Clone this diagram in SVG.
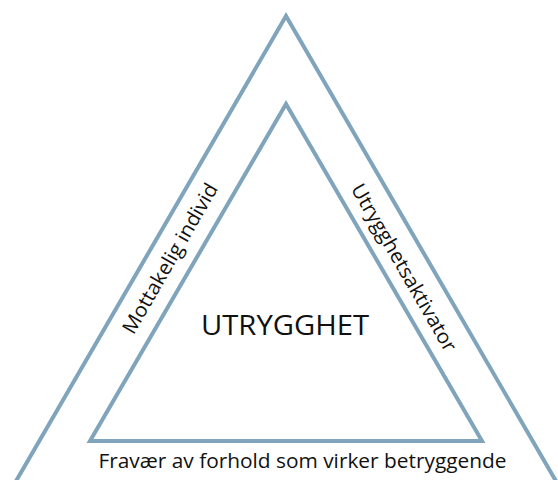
<svg xmlns="http://www.w3.org/2000/svg" width="558" height="480" viewBox="0 0 558 480">
<style>
.tri{fill:none;stroke:#7FA4BB;stroke-width:4;stroke-linejoin:miter}
.t{font-family:"Open Sans","Noto Sans",sans-serif;fill:#111;text-anchor:middle}
</style>
<rect width="558" height="480" fill="#fff"/>
<g id="outer"><polygon class="tri" points="286,16 12,488 560,488"/></g>
<g id="inner"><polygon class="tri" points="286,104 90,441 482,441"/></g>
<g id="labels">
<text class="t" x="285" y="335" font-size="28" textLength="168" lengthAdjust="spacingAndGlyphs">UTRYGGHET</text>
<text class="t" x="302.5" y="468" font-size="20" textLength="408" lengthAdjust="spacingAndGlyphs">Fravær av forhold som virker betryggende</text>
<text class="t" font-size="20" textLength="170" lengthAdjust="spacingAndGlyphs" transform="translate(176,262) rotate(-60)">Mottakelig individ</text>
<text class="t" font-size="20" textLength="190" lengthAdjust="spacingAndGlyphs" transform="translate(398,271) rotate(60)">Utrygghetsaktivator</text>
</g>
</svg>
